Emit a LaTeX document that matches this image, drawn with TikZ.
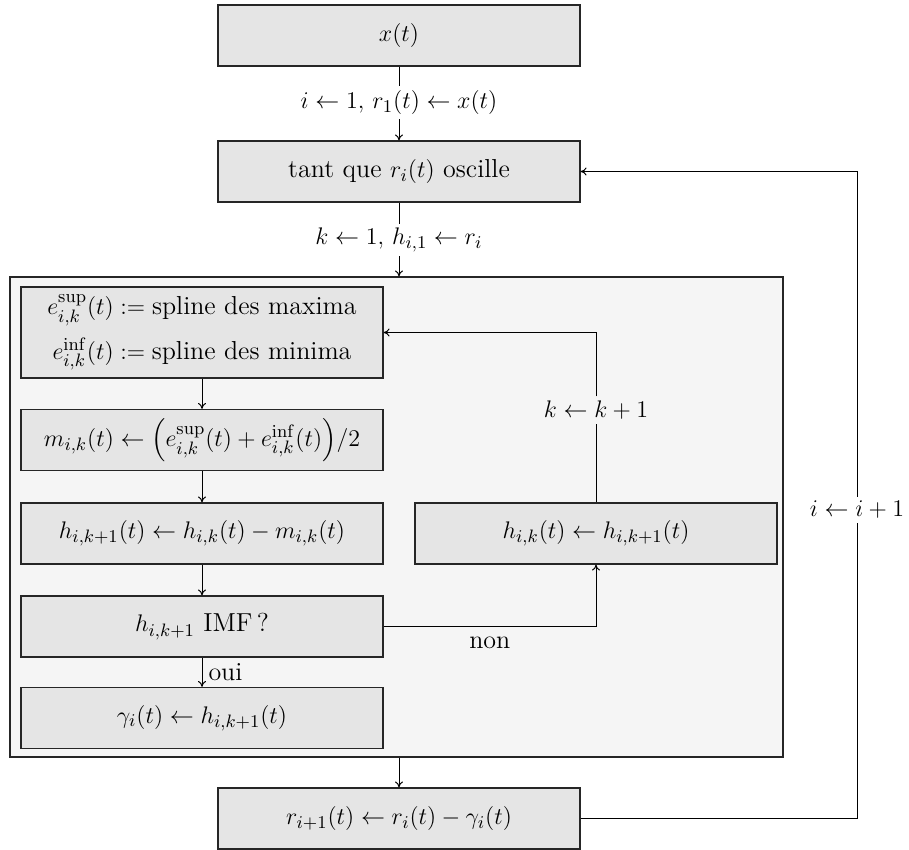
\documentclass[tikz,border=0pt]{standalone}
\usepackage{amsmath}
\usetikzlibrary{arrows.meta}
\begin{document}
\begin{tikzpicture}[x=0.5pt,y=-0.5pt,
  font=\fontsize{13}{16}\selectfont,
  line width=0.5pt,
  box/.style={draw=black!85,line width=0.6pt,fill=gray!20,inner sep=0pt,minimum width=181pt,minimum height=30.5pt,align=center},
  lbl/.style={inner sep=2pt},
  arr/.style={-{To[length=3pt,width=4pt]}}]
\path[use as bounding box] (0,0) rectangle (909,850);
\node[draw=black!85,line width=0.6pt,fill=gray!8,minimum width=386.5pt,minimum height=240pt,inner sep=0pt] (cont) at (396.5,517) {};
\node[box] (xt) at (399,35.5) {$x(t)$};
\node[lbl] (l1) at (399,103) {$i \leftarrow 1,\, r_1(t) \leftarrow x(t)$};
\node[box] (tq) at (399,171.5) {tant que $r_i(t)$ oscille};
\node[lbl] (l2) at (399,240) {$k \leftarrow 1,\, h_{i,1} \leftarrow r_i$};
\node[box,minimum height=45.5pt] (e) at (202,332.5) {$e^{\mathrm{sup}}_{i,k}(t) \mathrel{:=} \text{spline des maxima}$\\[5pt]$e^{\mathrm{inf}}_{i,k}(t) \mathrel{:=} \text{spline des minima}$};
\node[box] (m) at (202,440) {$m_{i,k}(t) \leftarrow \Bigl(e^{\mathrm{sup}}_{i,k}(t) + e^{\mathrm{inf}}_{i,k}(t)\Bigr)/2$};
\node[box] (h) at (202,533.5) {$h_{i,k+1}(t) \leftarrow h_{i,k}(t) - m_{i,k}(t)$};
\node[box] (imf) at (202,626.5) {$h_{i,k+1}$ IMF\,?};
\node[box] (g) at (202,718) {$\gamma_i(t) \leftarrow h_{i,k+1}(t)$};
\node[box] (hr) at (596,533.5) {$h_{i,k}(t) \leftarrow h_{i,k+1}(t)$};
\node[lbl] (lk) at (596,410) {$k \leftarrow k + 1$};
\node[box] (r) at (399,818.5) {$r_{i+1}(t) \leftarrow r_i(t) - \gamma_i(t)$};
\node[lbl] (li) at (857,510) {$i \leftarrow i + 1$};
\draw (xt) -- (l1);
\draw[arr] (l1) -- (tq);
\draw (tq) -- (l2);
\draw[arr] (l2) -- (l2 |- cont.north);
\draw[arr] (e) -- (m);
\draw[arr] (m) -- (h);
\draw[arr] (h) -- (imf);
\draw[arr] (imf) -- node[right,inner sep=3pt] {oui} (g);
\draw[arr] (imf.east) -| node[below,pos=0.25,inner sep=5pt] {non} (hr.south);
\draw (hr) -- (lk);
\draw[arr] (lk) |- (e.east);
\draw[arr] (cont.south -| r.north) -- (r);
\draw (r.east) -| (li);
\draw[arr] (li) |- (tq.east);
\end{tikzpicture}
\end{document}
